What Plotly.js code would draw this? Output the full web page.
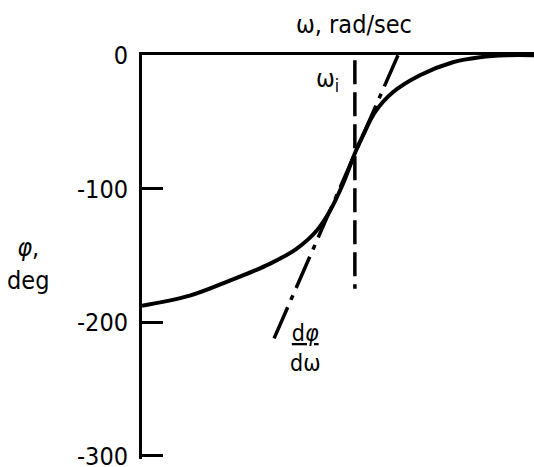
<!DOCTYPE html>
<html>
<head>
<meta charset="utf-8">
<script src="https://cdn.plot.ly/plotly-3.0.1.min.js"></script>
<style>
  html, body { margin: 0; padding: 0; background: #fff; }
  #chart { width: 534px; height: 467px; }
</style>
</head>
<body>
<div id="chart"></div>
<script>
// phase curve, omega in arbitrary units (no ticks on the axis)
const omega = [0, 1.22, 2.24, 3.27, 3.95, 4.46, 4.80, 5.13, 5.46, 5.64, 5.94, 6.40, 7.09, 7.93, 8.62, 9.31, 10]
const phi = [-187.5, -180, -168.75, -156, -144.75, -131.25, -116.25, -96, -71.25, -60, -42.75, -27.75, -15, -5.25, -1.5, 0, 0]

// omega_i marker and tangent dphi/domega
const omegaI = [5.43, 5.43]
const omegaILine = [-3.75, -174.75]
const tangentX = [6.53, 3.32]
const tangentY = [0, -215.25]

const yTicks = [0, -100, -200, -300]
const yTickText = ["0", "-100", "-200", "-300"]

const FONT = "DejaVu Sans Condensed, DejaVu Sans, sans-serif"

var data = [
    {
        x: omega,
        y: phi,
        mode: 'lines',
        type: 'scatter',
        line: { color: 'black', width: 4, shape: 'spline', smoothing: 1 },
    },
    {
        x: omegaI,
        y: omegaILine,
        mode: 'lines',
        type: 'scatter',
        line: { color: 'black', width: 3.5, dash: '24px,8px' },
    },
    {
        x: tangentX,
        y: tangentY,
        mode: 'lines',
        type: 'scatter',
        line: { color: 'black', width: 3.5, dash: '34px,8px,5px,8px' },
    },
];

var layout = {
    showlegend: false,
    width: 534,
    height: 467,
    margin: { l: 142, r: 0, t: 55, b: 8 },
    paper_bgcolor: 'white',
    plot_bgcolor: 'white',
    font: { family: FONT, size: 25, color: 'black' },
    xaxis: {
        range: [0, 10],
        side: 'top',
        showline: true,
        linewidth: 3,
        linecolor: 'black',
        showgrid: false,
        zeroline: false,
        showticklabels: false,
        ticks: '',
    },
    yaxis: {
        range: [-302.3, 0.2],
        showline: true,
        linewidth: 3,
        linecolor: 'black',
        showgrid: false,
        zeroline: false,
        tickmode: 'array',
        tickvals: yTicks,
        ticktext: yTickText,
        ticks: 'inside',
        ticklen: 21,
        tickwidth: 3,
        tickcolor: 'black',
        ticklabelstandoff: 6,
        ticklabeloverflow: 'allow',
        tickfont: { family: FONT, size: 25 },
    },
    annotations: [
        { xref: 'paper', yref: 'paper', x: 0.541, y: 1.075, xanchor: 'center', yanchor: 'middle',
          text: 'ω, rad/sec', showarrow: false },
        { xref: 'paper', yref: 'paper', x: -0.291, y: 0.4825, xanchor: 'center', yanchor: 'middle',
          text: '<i>φ</i>,<br>deg', showarrow: false },
        { xref: 'x', yref: 'y', x: 4.74, y: -18.75, xanchor: 'center', yanchor: 'middle',
          text: 'ω<sub>i</sub>', showarrow: false },
        { xref: 'x', yref: 'y', x: 4.16, y: -219, xanchor: 'center', yanchor: 'middle',
          text: '<u>d<i>φ</i></u><br>dω', showarrow: false, font: { size: 23 } },
    ],
};

Plotly.newPlot('chart', data, layout, { staticPlot: true });
</script>
</body>
</html>
